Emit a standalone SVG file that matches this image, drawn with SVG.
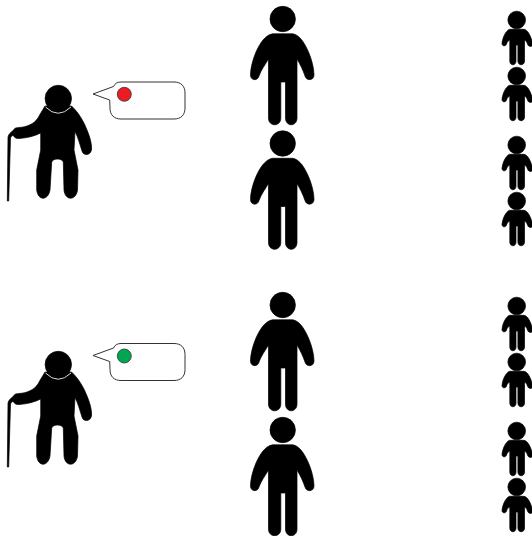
<svg xmlns="http://www.w3.org/2000/svg" width="532" height="536" viewBox="0 0 532 536">
<style>
.fig{fill:#000;stroke:#000;stroke-width:.7;stroke-linejoin:round}
.neck{fill:none;stroke:#ddd;stroke-width:1}
.bubble{fill:#fff;stroke:#333;stroke-width:1}
.dot{stroke:#333;stroke-width:.8}
</style>
<defs>
<g id="adult">
<circle class="fig" cx="282.700" cy="19" r="12.700"/>
<path class="fig" d="M272.500 33.800 L292.800 33.800 C300 35 305 44 308.500 52 C311.500 59 314 68 314 75 C314 81 306 81 305 76 C303 70 300.500 65 297 59 L297 118 C297 127 285.500 127 285.500 118 L285.500 82 L280.800 82 L280.800 118 C280.800 127 268.500 127 268.500 118 L268.500 59 C265 65 261 70 259 76 C258 81 250.500 81 250.500 75 C250.500 68 253 59 256 52 C259.500 44 265 35 272.500 33.800Z"/>
</g>
<g id="child">
<circle class="fig" cx="516.700" cy="20" r="8.800"/>
<path class="fig" d="M509.500 29.300 L524 29.300 C528 30 530.500 36 532 41 L532 46 C530 47 528 46 527.500 44 C527 42 526 41 524.500 40 L524.500 61 C524.500 66 517.900 66 517.900 61 L517.900 45 L516 45 L516 61 C516 66 509.800 66 509.800 61 L509.800 40 C508 41 507 42 506.500 44 C506 46.500 502 46.500 502 43.500 C502.500 38 505.500 31 509.500 29.300Z"/>
</g>
<g id="elder">
<path class="fig" d="M45 106 L71.500 106 C79 113 84 122 87 130 C90 137 91.800 144 91.600 149 C91 156 83 156 82 151 C80 145 78 137 75 131.500 L74 150 L78 170 L77.500 190 C76 201 65 201 64 190 L63.300 162 C62 158 53 158 51.700 162 L50 190 C48 201 38 201 36.700 190 L36.700 170 L40.700 150 L40.700 133 C35 136 27 138 19 138.500 C15 139 12.500 136 13 132 C14 128 15 128 19 127.500 C27 127 34 124 38 118 C40 114 42 111 45 106Z"/>
<path class="fig" d="M14 130 C11 132 8.500 134 8 137 L7.300 201 L8.700 201 L10.500 138 C11 136 13 135 15 135Z"/>
<path class="neck" d="M45.500 107 Q58 119.500 71 107"/>
<circle class="fig" cx="58.300" cy="98.500" r="13.200"/>
</g>
</defs>
<g id="elder-top"><use href="#elder"/></g>
<g id="bubble-top">
<path class="bubble" d="M113.500 86.500 C115 83.500 117 82 121 82 L174 82 C181 82 185 86 185 93 L185 108 C185 115 181 119 174 119 L121 119 C114 119 110 115 110 108 L109.700 100 L93 94 Z"/>
<circle class="dot" cx="124.300" cy="94.300" r="7" fill="#ed1c24"/>
</g>
<g id="adult-1"><use href="#adult"/></g>
<g id="adult-2"><use href="#adult" y="124.500"/></g>
<g id="child-1"><use href="#child"/></g>
<g id="child-2"><use href="#child" y="56"/></g>
<g id="child-3"><use href="#child" y="125"/></g>
<g id="child-4"><use href="#child" y="181"/></g>
<g id="elder-bottom"><use href="#elder" y="266"/></g>
<g id="bubble-bottom">
<path class="bubble" d="M113.500 348 C115 345 117 343.500 121 343.500 L174 343.500 C181 343.500 185 347.500 185 354.500 L185 369.500 C185 376.500 181 380.500 174 380.500 L121 380.500 C114 380.500 110 376.500 110 369.500 L109.700 361.500 L93 355.500 Z"/>
<circle class="dot" cx="124.300" cy="356" r="7" fill="#00a651"/>
</g>
<g id="adult-3"><use href="#adult" y="286"/></g>
<g id="adult-4"><use href="#adult" y="411"/></g>
<g id="child-5"><use href="#child" y="286"/></g>
<g id="child-6"><use href="#child" y="342"/></g>
<g id="child-7"><use href="#child" y="411"/></g>
<g id="child-8"><use href="#child" y="467"/></g>
</svg>
